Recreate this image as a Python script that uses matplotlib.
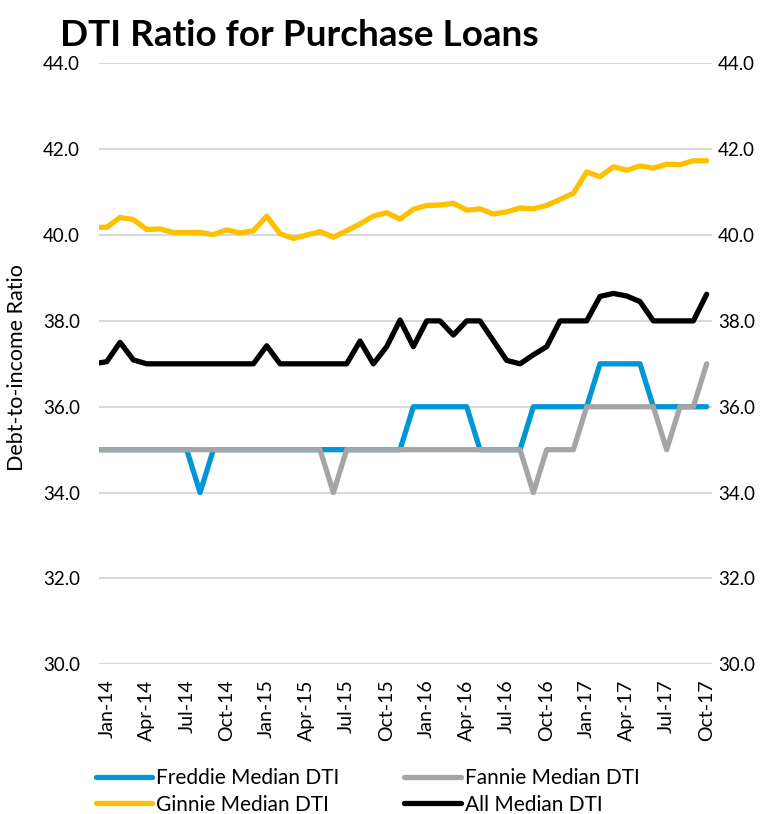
import matplotlib.pyplot as plt
import numpy as np
import pandas as pd

plt.rcParams['font.family'] = ['Lato', 'DejaVu Sans']

# months Jan-14 .. Oct-17 (46 points); Dec-13 value kept so the line runs to the edge
months = pd.date_range('2013-12-01', '2017-10-01', freq='MS')
month_labels = [m.strftime('%b-%y') for m in months]

freddie = [35,
           35, 35, 35, 35, 35, 35, 35, 34, 35, 35, 35, 35,
           35, 35, 35, 35, 35, 35, 35, 35, 35, 35, 35, 36,
           36, 36, 36, 36, 35, 35, 35, 35, 36, 36, 36, 36,
           36, 37, 37, 37, 37, 36, 36, 36, 36, 36]
fannie = [35,
          35, 35, 35, 35, 35, 35, 35, 35, 35, 35, 35, 35,
          35, 35, 35, 35, 35, 34, 35, 35, 35, 35, 35, 35,
          35, 35, 35, 35, 35, 35, 35, 35, 34, 35, 35, 35,
          36, 36, 36, 36, 36, 36, 35, 36, 36, 37]
ginnie = [40.18,
          40.18, 40.41, 40.36, 40.13, 40.14, 40.06, 40.06, 40.06, 40.01, 40.12, 40.05, 40.10,
          40.44, 40.03, 39.92, 40.00, 40.08, 39.95, 40.10, 40.26, 40.44, 40.52, 40.37, 40.60,
          40.69, 40.70, 40.74, 40.58, 40.61, 40.49, 40.54, 40.63, 40.61, 40.69, 40.83, 40.97,
          41.47, 41.36, 41.59, 41.51, 41.61, 41.56, 41.65, 41.64, 41.73, 41.73]
all_dti = [37.0,
           37.05, 37.50, 37.09, 37.0, 37.0, 37.0, 37.0, 37.0, 37.0, 37.0, 37.0, 37.0,
           37.42, 37.0, 37.0, 37.0, 37.0, 37.0, 37.0, 37.53, 37.0, 37.40, 38.02, 37.40,
           38.0, 38.0, 37.67, 38.0, 38.0, 37.54, 37.08, 37.0, 37.21, 37.40, 38.0, 38.0,
           38.0, 38.57, 38.64, 38.58, 38.45, 38.0, 38.0, 38.0, 38.0, 38.62]

series = [
    ('Freddie Median DTI', freddie, '#0096D6'),
    ('Fannie Median DTI', fannie, '#A5A5A5'),
    ('Ginnie Median DTI', ginnie, '#FFC000'),
    ('All Median DTI', all_dti, '#000000'),
]

fig = plt.figure(figsize=(7.6, 8.14), dpi=100)
ax = fig.add_axes([0.1307, 0.1839, 0.8057, 0.7383])

x = np.arange(len(months)) - 1  # Jan-14 -> 0
lines = {}
for name, vals, col in series:
    ln, = ax.plot(x, vals, color=col, lw=3.8, label=name,
                  solid_joinstyle='round', solid_capstyle='round')
    lines[name] = ln

ax.set_xlim(-0.555, 45.375)
ax.set_ylim(30, 44)
yt = np.arange(30, 44.1, 2)
ax.set_yticks(yt)
ax.set_yticklabels([f'{v:.1f}' for v in yt], fontsize=13.5)
ax.grid(axis='y', color='#D9D9D9', lw=1.5)
ax.set_axisbelow(True)

xt = x[1::3]
ax.set_xticks(xt)
ax.set_xticklabels(month_labels[1::3], rotation=90, fontsize=14)
ax.tick_params(axis='x', length=0, pad=11)
ax.tick_params(axis='y', length=0, pad=14)
for s in ax.spines.values():
    s.set_visible(False)

ax2 = ax.twinx()
ax2.set_ylim(30, 44)
ax2.set_yticks(yt)
ax2.set_yticklabels([f'{v:.1f}' for v in yt], fontsize=13.5)
ax2.tick_params(axis='y', length=0, pad=4.5)
for s in ax2.spines.values():
    s.set_visible(False)

ax.set_ylabel('Debt-to-income Ratio', fontsize=15.5, va='center')
ax.yaxis.set_label_coords(-0.134, 0.494)

fig.text(0.079, 0.9435, 'DTI Ratio for Purchase Loans', fontsize=26.6,
         fontweight='bold', va='baseline', ha='left')

order = ['Freddie Median DTI', 'Ginnie Median DTI', 'Fannie Median DTI', 'All Median DTI']
fig.legend([lines[n] for n in order], order, ncol=2, loc='center left',
           bbox_to_anchor=(96 / 760, 1 - 791.5 / 814), frameon=False,
           fontsize=15, borderpad=0, borderaxespad=0, handlelength=2.7,
           handletextpad=0.2, columnspacing=3.1, labelspacing=0.3)

fig.savefig('out.png', dpi=100)
